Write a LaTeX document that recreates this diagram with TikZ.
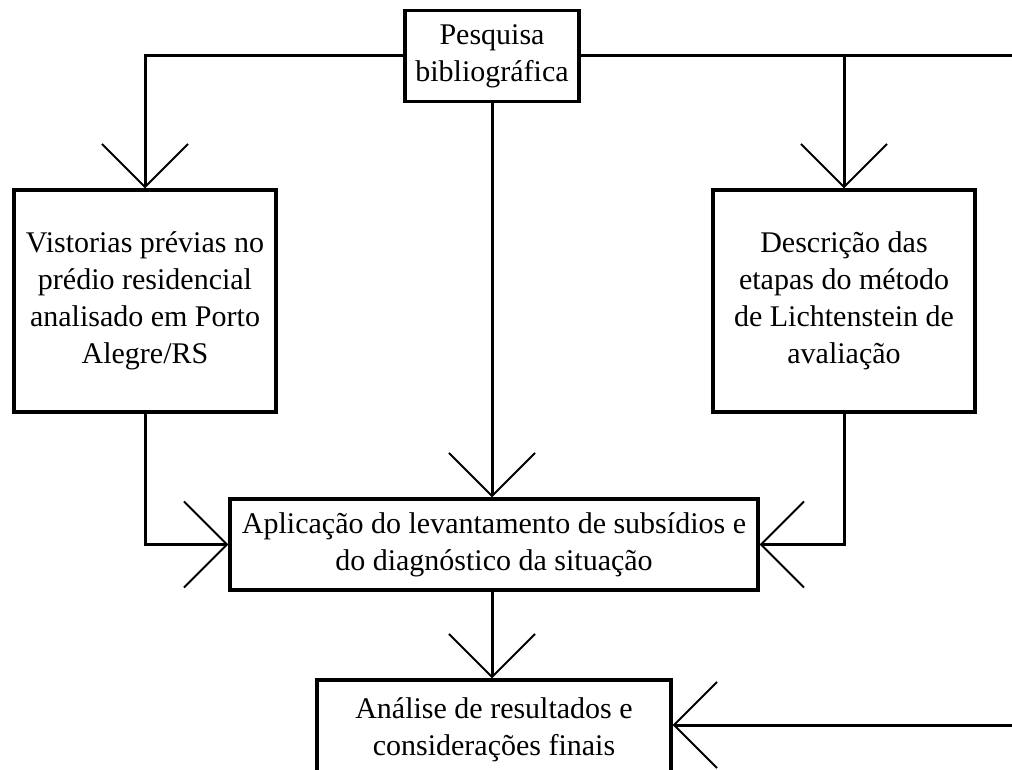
\documentclass[tikz,border=0pt]{standalone}
\usepackage{fontspec}
\setmainfont{Liberation Serif}
\usetikzlibrary{arrows.meta}
\begin{document}
\begin{tikzpicture}[x=1pt,y=-1pt,
  box/.style={draw,line width=3.2pt,inner sep=0pt,align=center,
    font=\fontsize{30}{37}\selectfont},
  conn/.style={line width=3pt},
  arr/.style={conn,-{Straight Barb[length=43pt,width=86pt,line width=2pt]}}]
\useasboundingbox (0,0) rectangle (1012,770);
\clip (0,0) rectangle (1012,770);
\node[box,minimum width=174pt,minimum height=91pt] (P) at (492,56) {Pesquisa\\bibliográfica};
\node[box,minimum width=262pt,minimum height=222pt] (L) at (145,301) {Vistorias prévias no\\prédio residencial\\analisado em Porto\\Alegre/RS};
\node[box,minimum width=262pt,minimum height=222pt] (R) at (844,301) {Descrição das\\etapas do método\\de Lichtenstein de\\avaliação};
\node[box,minimum width=528pt,minimum height=91pt] (M) at (494,544.5) {Aplicação do levantamento de subsídios e\\do diagnóstico da situação};
\node[box,minimum width=354pt,minimum height=100pt] (B) at (494,730) {Análise de resultados e\\considerações finais};
\coordinate (rEnd) at (1014,56);
\coordinate (bEnd) at (1014,725);
\draw[arr] (P.west) -| (L.north);
\draw[conn] (P.east) -- (rEnd);
\draw[arr] (P.east -| R.north) -- (R.north);
\draw[arr] (P.south) -- (P.south |- M.north);
\draw[arr] (L.south) |- (M.west);
\draw[arr] (R.south) |- (M.east);
\draw[arr] (M.south -| P.south) -- (P.south |- B.north);
\draw[arr] (bEnd) -- (bEnd -| B.east);
\end{tikzpicture}
\end{document}
